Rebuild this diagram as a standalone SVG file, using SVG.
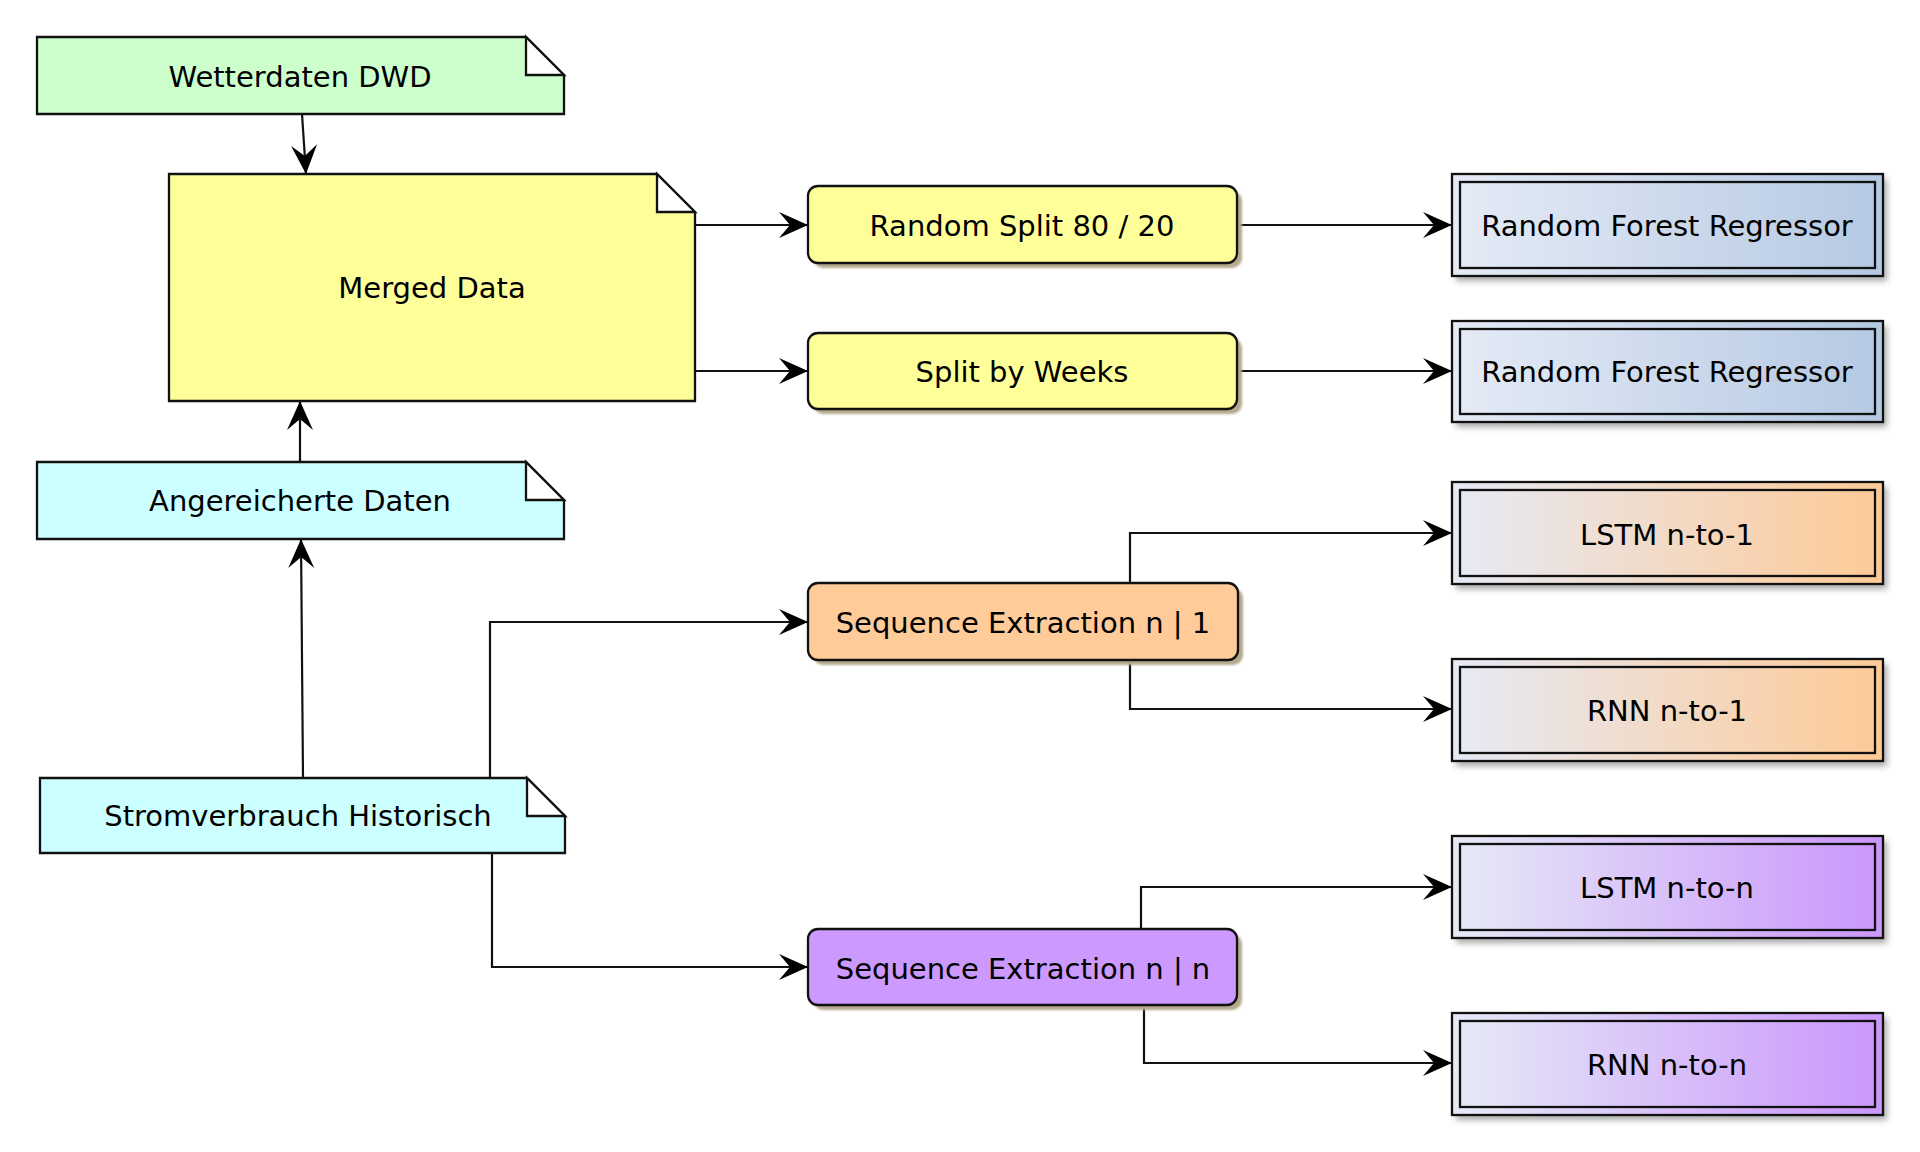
<svg xmlns="http://www.w3.org/2000/svg" width="1920" height="1152" viewBox="0 0 1920 1152">
<defs>
<style>
text{font-family:"DejaVu Sans","Liberation Sans",sans-serif;font-size:29px;fill:#000;text-anchor:middle}
.note{stroke:#111;stroke-width:2.3}
.fold{fill:#fff;stroke:#111;stroke-width:2.3;stroke-linejoin:miter}
.act{stroke:#111;stroke-width:2.3}
.dbl{stroke:#111;stroke-width:2.3}
.inner{fill:none;stroke:#111;stroke-width:2.3}
.conn{fill:none;stroke:#111;stroke-width:2.2}
.shd{fill:#B3A98C}
.shd2{fill:#8a8a8a;opacity:0.75}
</style>
<marker id="arr" markerUnits="userSpaceOnUse" markerWidth="32" markerHeight="30" viewBox="-31 -15 32 30" refX="0" refY="0" orient="auto">
<path d="M0,0 L-29,-13 L-18,0 L-29,13 Z" fill="#000"/>
</marker>
<filter id="sh" x="-5%" y="-10%" width="115%" height="140%">
<feGaussianBlur stdDeviation="0.8"/>
</filter>
<filter id="sh2" x="-5%" y="-10%" width="115%" height="140%">
<feGaussianBlur stdDeviation="3"/>
</filter>
<linearGradient id="gBlue" x1="0" y1="0" x2="1" y2="0">
<stop offset="0" stop-color="#E5EBF6"/>
<stop offset="1" stop-color="#B5C9E3"/>
</linearGradient>
<linearGradient id="gOrange" x1="0" y1="0" x2="1" y2="0">
<stop offset="0" stop-color="#E6EAF6"/>
<stop offset="1" stop-color="#FECA96"/>
</linearGradient>
<linearGradient id="gPurple" x1="0" y1="0" x2="1" y2="0">
<stop offset="0" stop-color="#E6EAF6"/>
<stop offset="1" stop-color="#CA96FC"/>
</linearGradient>
</defs>
<rect width="1920" height="1152" fill="#fff"/>

<g id="connectors">
<path class="conn" d="M302,114 L306,174" marker-end="url(#arr)"/>
<path class="conn" d="M300,462 L300,401" marker-end="url(#arr)"/>
<path class="conn" d="M303,778 L301,539" marker-end="url(#arr)"/>
<path class="conn" d="M695,225 L808,225" marker-end="url(#arr)"/>
<path class="conn" d="M695,371 L808,371" marker-end="url(#arr)"/>
<path class="conn" d="M1237,225 L1452,225" marker-end="url(#arr)"/>
<path class="conn" d="M1237,371 L1452,371" marker-end="url(#arr)"/>
<path class="conn" d="M490,778 L490,622 L808,622" marker-end="url(#arr)"/>
<path class="conn" d="M492,853 L492,967 L808,967" marker-end="url(#arr)"/>
<path class="conn" d="M1130,583 L1130,533 L1452,533" marker-end="url(#arr)"/>
<path class="conn" d="M1130,660 L1130,709 L1452,709" marker-end="url(#arr)"/>
<path class="conn" d="M1141,929 L1141,887 L1452,887" marker-end="url(#arr)"/>
<path class="conn" d="M1144,1005 L1144,1063 L1452,1063" marker-end="url(#arr)"/>
</g>

<g id="wetterdaten">
<path class="note" fill="#CCFFCC" d="M37,37 H526 L564,75 V114 H37 Z"/>
<path class="fold" d="M526,37 L564,75 H526 Z"/>
<text x="300" y="87">Wetterdaten DWD</text>
</g>

<g id="merged">
<path class="note" fill="#FFFF99" d="M169,174 H657 L695,212 V401 H169 Z"/>
<path class="fold" d="M657,174 L695,212 H657 Z"/>
<text x="432" y="298">Merged Data</text>
</g>

<g id="angereichert">
<path class="note" fill="#CCFFFF" d="M37,462 H526 L564,500 V539 H37 Z"/>
<path class="fold" d="M526,462 L564,500 H526 Z"/>
<text x="300" y="511">Angereicherte Daten</text>
</g>

<g id="strom">
<path class="note" fill="#CCFFFF" d="M40,778 H527 L565,816 V853 H40 Z"/>
<path class="fold" d="M527,778 L565,816 H527 Z"/>
<text x="298" y="826">Stromverbrauch Historisch</text>
</g>

<g id="randomsplit">
<rect class="shd" x="813" y="191" width="429" height="77" rx="10" filter="url(#sh)"/>
<rect class="act" x="808" y="186" width="429" height="77" rx="10" fill="#FFFF99"/>
<text x="1022" y="236">Random Split 80 / 20</text>
</g>

<g id="splitweeks">
<rect class="shd" x="813" y="338" width="429" height="76" rx="10" filter="url(#sh)"/>
<rect class="act" x="808" y="333" width="429" height="76" rx="10" fill="#FFFF99"/>
<text x="1022" y="382">Split by Weeks</text>
</g>

<g id="seq1">
<rect class="shd" x="813" y="588" width="430" height="77" rx="10" filter="url(#sh)"/>
<rect class="act" x="808" y="583" width="430" height="77" rx="10" fill="#FFCC99"/>
<text x="1023" y="633">Sequence Extraction n | 1</text>
</g>

<g id="seqn">
<rect class="shd" x="813" y="934" width="429" height="76" rx="10" filter="url(#sh)"/>
<rect class="act" x="808" y="929" width="429" height="76" rx="10" fill="#CC99FF"/>
<text x="1023" y="979">Sequence Extraction n | n</text>
</g>

<g id="rfr1">
<rect class="shd2" x="1456" y="179" width="431" height="102" filter="url(#sh2)"/>
<rect class="dbl" x="1452" y="174" width="431" height="102" fill="url(#gBlue)"/>
<rect class="inner" x="1460" y="182" width="415" height="86"/>
<text x="1667" y="236">Random Forest Regressor</text>
</g>

<g id="rfr2">
<rect class="shd2" x="1456" y="326" width="431" height="101" filter="url(#sh2)"/>
<rect class="dbl" x="1452" y="321" width="431" height="101" fill="url(#gBlue)"/>
<rect class="inner" x="1460" y="329" width="415" height="85"/>
<text x="1667" y="382">Random Forest Regressor</text>
</g>

<g id="lstm1">
<rect class="shd2" x="1456" y="487" width="431" height="102" filter="url(#sh2)"/>
<rect class="dbl" x="1452" y="482" width="431" height="102" fill="url(#gOrange)"/>
<rect class="inner" x="1460" y="490" width="415" height="86"/>
<text x="1667" y="545">LSTM n-to-1</text>
</g>

<g id="rnn1">
<rect class="shd2" x="1456" y="664" width="431" height="102" filter="url(#sh2)"/>
<rect class="dbl" x="1452" y="659" width="431" height="102" fill="url(#gOrange)"/>
<rect class="inner" x="1460" y="667" width="415" height="86"/>
<text x="1667" y="721">RNN n-to-1</text>
</g>

<g id="lstmn">
<rect class="shd2" x="1456" y="841" width="431" height="102" filter="url(#sh2)"/>
<rect class="dbl" x="1452" y="836" width="431" height="102" fill="url(#gPurple)"/>
<rect class="inner" x="1460" y="844" width="415" height="86"/>
<text x="1667" y="898">LSTM n-to-n</text>
</g>

<g id="rnnn">
<rect class="shd2" x="1456" y="1018" width="431" height="102" filter="url(#sh2)"/>
<rect class="dbl" x="1452" y="1013" width="431" height="102" fill="url(#gPurple)"/>
<rect class="inner" x="1460" y="1021" width="415" height="86"/>
<text x="1667" y="1075">RNN n-to-n</text>
</g>
</svg>
